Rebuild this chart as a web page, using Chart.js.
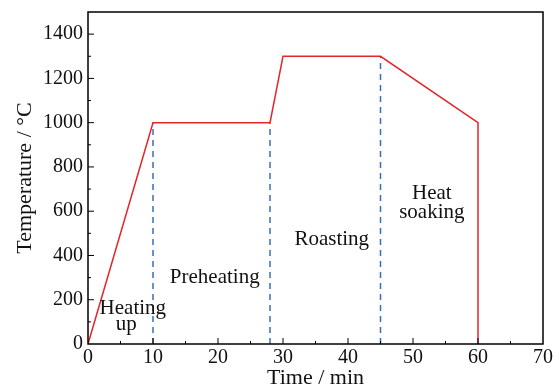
<!DOCTYPE html>
<html>
<head>
<meta charset="utf-8">
<script src="https://cdn.jsdelivr.net/npm/chart.js@4"></script>
<style>
  html, body { margin: 0; padding: 0; background: #fff; }
  #wrap { width: 560px; height: 389px; }
</style>
</head>
<body>
<div id="wrap"><canvas id="chart" width="560" height="389"></canvas></div>
<script>
// temperature programme (time in min, temperature in °C)
const timeMin = [0, 10, 28, 30, 45, 60, 60];
const tempC = [0, 1000, 1000, 1300, 1300, 1000, 0];

// stage boundaries (dashed lines)
const stageTimes = [10, 28, 45];
const stageTops = [1000, 1000, 1300];

// stage labels
const stageText = ['Heating', 'up', 'Preheating', 'Roasting', 'Heat', 'soaking'];
const stageX = [6.9, 5.9, 19.5, 37.5, 52.9, 52.9];
const stageY = [160, 88, 300, 470, 678, 592];

const xTicks = [0, 10, 20, 30, 40, 50, 60, 70];
const yTicks = [0, 200, 400, 600, 800, 1000, 1200, 1400];

const FONT = '"Liberation Serif", "DejaVu Serif", serif';

const datasets = [{
    data: timeMin.map((t, i) => ({ x: t, y: tempC[i] })),
    borderColor: '#e3262b',
    borderWidth: 1.5,
    pointRadius: 0,
    tension: 0
}];
stageTimes.forEach((t, i) => {
    datasets.push({
        data: [{ x: t, y: 0 }, { x: t, y: stageTops[i] }],
        borderColor: '#3b6dbb',
        borderWidth: 1.5,
        borderDash: [6, 5],
        pointRadius: 0
    });
});

// box, inward ticks and stage labels
const extras = {
    id: 'extras',
    afterDraw(chart) {
        const ctx = chart.ctx;
        const a = chart.chartArea;
        const xs = chart.scales.x, ys = chart.scales.y;
        ctx.save();
        ctx.strokeStyle = '#000';
        ctx.lineWidth = 1.5;
        ctx.strokeRect(a.left, a.top, a.right - a.left, a.bottom - a.top);
        ctx.lineWidth = 1;
        ctx.beginPath();
        for (let v = 5; v < 70; v += 5) {
            const px = xs.getPixelForValue(v);
            const len = v % 10 === 0 ? 6 : 3;
            ctx.moveTo(px, a.bottom);
            ctx.lineTo(px, a.bottom - len);
        }
        for (let v = 100; v < 1500; v += 100) {
            const py = ys.getPixelForValue(v);
            const len = v % 200 === 0 ? 6 : 3;
            ctx.moveTo(a.left, py);
            ctx.lineTo(a.left + len, py);
        }
        ctx.stroke();

        ctx.fillStyle = '#111';
        ctx.font = '21px ' + FONT;
        ctx.textAlign = 'center';
        ctx.textBaseline = 'middle';
        stageText.forEach((s, i) => {
            ctx.fillText(s, xs.getPixelForValue(stageX[i]), ys.getPixelForValue(stageY[i]));
        });
        ctx.restore();
    }
};

new Chart(document.getElementById('chart'), {
    type: 'line',
    data: { datasets: datasets },
    plugins: [extras],
    options: {
        responsive: false,
        animation: false,
        layout: { padding: { top: 12, right: 17, left: 0, bottom: 0 } },
        plugins: { legend: { display: false }, tooltip: { enabled: false } },
        scales: {
            x: {
                type: 'linear',
                min: 0,
                max: 70,
                afterBuildTicks: s => { s.ticks = xTicks.map(v => ({ value: v })); },
                afterFit: s => { s.height = 45; s.paddingLeft = 0; s.paddingRight = 0; },
                ticks: { color: '#111', padding: 2, font: { family: FONT, size: 20 } },
                grid: { display: false, drawTicks: false },
                border: { display: false },
                title: {
                    display: true, text: 'Time / min', color: '#111',
                    padding: { top: 0, bottom: 0 },
                    font: { family: FONT, size: 22, lineHeight: 1.0 }
                }
            },
            y: {
                min: 0,
                max: 1500,
                afterBuildTicks: s => { s.ticks = yTicks.map(v => ({ value: v })); },
                afterFit: s => { s.width = 88; s.paddingTop = 0; s.paddingBottom = 0; },
                ticks: {
                    color: '#111', padding: 5, font: { family: FONT, size: 20 },
                    callback: v => String(v)
                },
                grid: { display: false, drawTicks: false },
                border: { display: false },
                title: {
                    display: true, text: 'Temperature / °C', color: '#111',
                    padding: { top: 12, bottom: 0 },
                    font: { family: FONT, size: 22 }
                }
            }
        }
    }
});
</script>
</body>
</html>
